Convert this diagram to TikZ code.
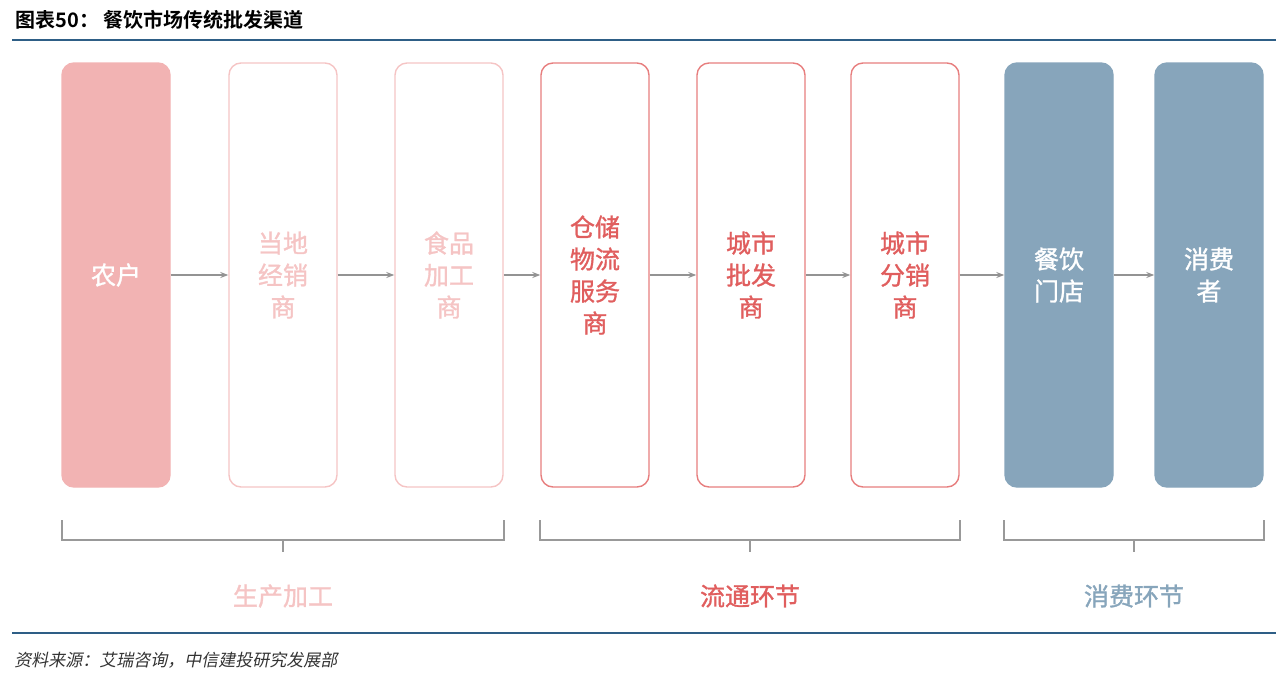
\documentclass[tikz,border=0pt]{standalone}
\usepackage{fontspec}
\setmainfont{Noto Sans CJK SC}
\newfontfamily\cjkb{Noto Sans CJK SC Bold}
\newfontfamily\cjkm[FakeBold=1.2]{Noto Sans CJK SC}
\usetikzlibrary{arrows.meta}
\definecolor{pinkf}{HTML}{F2B3B3}
\definecolor{pinkl}{HTML}{F5C4C4}
\definecolor{redd}{HTML}{E77E7E}
\definecolor{redt}{HTML}{E05E5E}
\definecolor{bluef}{HTML}{87A5BB}
\definecolor{rule}{HTML}{2E5E86}
\begin{document}
\begin{tikzpicture}[x=1pt,y=-1pt,
 box/.style={rounded corners=12pt,minimum width=108pt,minimum height=424pt,line width=1.4pt,align=center,font=\cjkm\fontsize{25}{32}\selectfont},
 s1/.style={box,fill=pinkf,draw=pinkf,text=white},
 s2/.style={box,draw=pinkl,text=pinkl},
 s3/.style={box,draw=redd,text=redt},
 s4/.style={box,fill=bluef,draw=bluef,text=white},
 arr/.style={-{Stealth[length=8pt]},draw=gray!85,line width=1.3pt},
 brace/.style={draw=gray!80,line width=1.2pt},
 lab/.style={font=\cjkm\fontsize{25}{28}\selectfont}]
\useasboundingbox (0,0) rectangle (1276,678);
\node[anchor=west,font=\cjkb\fontsize{20}{22}\selectfont] (t) at (12,20) {图表50：\ 餐饮市场传统批发渠道};
\draw[rule,line width=1.2pt] (12,40) -- (1276,40);
\node[s1] (a) at (116,275) {农户};
\node[s2] (b) at (283,275) {当地\\经销\\商};
\node[s2] (c) at (449,275) {食品\\加工\\商};
\node[s3] (d) at (595,275) {仓储\\物流\\服务\\商};
\node[s3] (e) at (751,275) {城市\\批发\\商};
\node[s3] (f) at (905,275) {城市\\分销\\商};
\node[s4] (g) at (1059,275) {餐饮\\门店};
\node[s4] (h) at (1209,275) {消费\\者};
\foreach \u/\v in {a/b,b/c,c/d,d/e,e/f,f/g,g/h} \draw[arr] (\u) -- (\v);
\draw[brace] (62,520) -- (62,540) -- (504,540) -- (504,520) (283,540) -- (283,552);
\draw[brace] (540,520) -- (540,540) -- (960,540) -- (960,520) (750,540) -- (750,552);
\draw[brace] (1004,520) -- (1004,540) -- (1264,540) -- (1264,520) (1134,540) -- (1134,552);
\node[lab,text=pinkl] (l1) at (283,596) {生产加工};
\node[lab,text=redt] (l2) at (750,596) {流通环节};
\node[lab,text=bluef] (l3) at (1134,596) {消费环节};
\draw[rule,line width=1.2pt] (12,633) -- (1276,633);
\node[anchor=west,font=\fontsize{17}{20}\selectfont,xslant=0.2,text=black!80] (src) at (12,660) {资料来源：艾瑞咨询，中信建投研究发展部};
\end{tikzpicture}
\end{document}
